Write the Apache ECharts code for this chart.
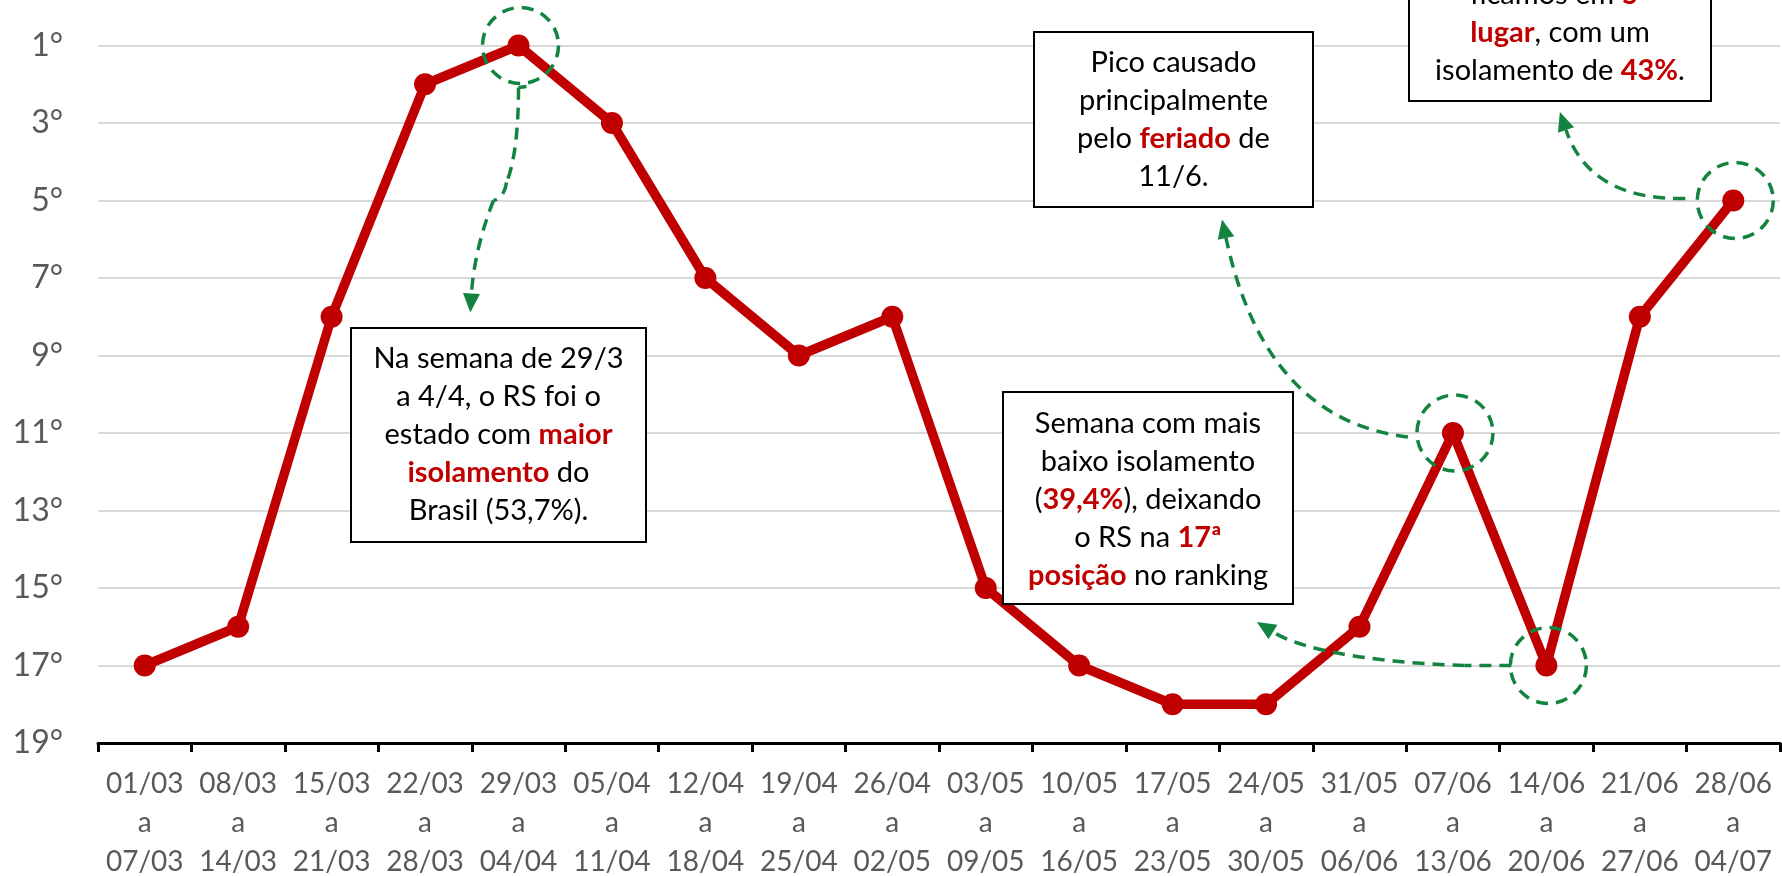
<!DOCTYPE html>
<html>
<head>
<meta charset="utf-8">
<script src="https://cdn.jsdelivr.net/npm/echarts@6/dist/echarts.min.js"></script>
<style>html,body{margin:0;padding:0;background:#fff;}#c{width:1782px;height:876px;}</style>
</head>
<body>
<div id="c"></div>
<script>
const weekStart = ['01/03','08/03','15/03','22/03','29/03','05/04','12/04','19/04','26/04','03/05','10/05','17/05','24/05','31/05','07/06','14/06','21/06','28/06'];
const weekEnd = ['07/03','14/03','21/03','28/03','04/04','11/04','18/04','25/04','02/05','09/05','16/05','23/05','30/05','06/06','13/06','20/06','27/06','04/07'];
const rank = [17,16,8,2,1,3,7,9,8,15,17,18,18,16,11,17,8,5];
const yTicks = [1,3,5,7,9,11,13,15,17,19];

const categories = weekStart.map((s, i) => s + '\na\n' + weekEnd[i]);
const RED = '#C00000', GREEN = '#128440', FONT = 'Lato';

const chart = echarts.init(document.getElementById('c'));
chart.setOption({
  backgroundColor: '#fff',
  animation: false,
  grid: { left: 98, right: 2, top: 45.5, bottom: 133, containLabel: false, outerBoundsMode: 'none' },
  xAxis: {
    type: 'category', data: categories, boundaryGap: true,
    axisLine: { onZero: false, lineStyle: { color: '#000', width: 3 } },
    axisTick: { show: true, length: 9, lineStyle: { color: '#000', width: 3 } },
    axisLabel: { interval: 0, fontSize: 28, lineHeight: 39, color: '#595959', fontFamily: FONT, margin: 21 },
    splitLine: { show: false }
  },
  yAxis: {
    type: 'value', inverse: true, min: yTicks[0], max: yTicks[yTicks.length - 1], interval: 2,
    axisLine: { show: false }, axisTick: { show: false },
    axisLabel: { formatter: v => v + '°', fontSize: 32, color: '#595959', fontFamily: FONT, margin: 35 },
    splitLine: { lineStyle: { color: '#D9D9D9', width: 2 } }
  },
  series: [{
    type: 'line', data: rank, clip: false,
    symbol: 'circle', symbolSize: 22,
    itemStyle: { color: RED },
    lineStyle: { color: RED, width: 9.5, join: 'round' },
    z: 5
  }]
});

function P(i) { return chart.convertToPixel({ seriesIndex: 0 }, [i, rank[i]]); }
const dash = { stroke: GREEN, lineWidth: 3.5, lineDash: [12, 8], fill: null };
const g = [];
function ring(i) {
  const p = P(i);
  g.push({ type: 'circle', z: 50, shape: { cx: p[0] + 2, cy: p[1], r: 38 }, style: Object.assign({}, dash) });
}
function curve(x1, y1, x2, y2, c1x, c1y, c2x, c2y) {
  const shape = { x1, y1, x2, y2, cpx1: c1x, cpy1: c1y };
  if (c2x !== undefined) { shape.cpx2 = c2x; shape.cpy2 = c2y; }
  g.push({ type: 'bezierCurve', z: 50, shape, style: Object.assign({}, dash) });
}
function head(bx, by, fx, fy) {
  let dx = bx - fx, dy = by - fy; const L = Math.hypot(dx, dy); dx /= L; dy /= L;
  const len = 19, hw = 8.5;
  g.push({ type: 'polygon', z: 51, shape: { points: [
    [bx + dx * len, by + dy * len], [bx - dy * hw, by + dx * hw], [bx + dy * hw, by - dx * hw]
  ] }, style: { fill: GREEN } });
}
function box(x1, y1, x2, y2, cx, cy, text) {
  g.push({ type: 'rect', z: 60, shape: { x: x1, y: y1, width: x2 - x1, height: y2 - y1 },
    style: { fill: '#fff', stroke: '#000', lineWidth: 2 } });
  g.push({ type: 'text', z: 61, x: cx, y: cy, style: {
    text, fill: '#000', fontSize: 29, fontFamily: FONT, lineHeight: 38,
    align: 'center', verticalAlign: 'middle',
    rich: { r: { fill: RED, fontWeight: 'bold', fontSize: 29, fontFamily: FONT, lineHeight: 38 } }
  } });
}

[4, 14, 15, 17].forEach(ring);

// arrow from 29/03 peak down to box 1
let p = P(4);
g.push({ type: 'line', z: 50, shape: { x1: p[0] + 8, y1: p[1] + 41, x2: p[0], y2: p[1] + 42 }, style: Object.assign({}, dash, { lineDash: null }) });
curve(p[0], p[1] + 42, p[0] - 12, p[1] + 137, p[0], p[1] + 90, p[0] - 5, p[1] + 120);
curve(p[0] - 12, p[1] + 137, p[0] - 25, p[1] + 155, p[0] - 14, p[1] + 152);
curve(p[0] - 25, p[1] + 155, p[0] - 47, p[1] + 248, p[0] - 35, p[1] + 180, p[0] - 45, p[1] + 215);
head(p[0] - 47, p[1] + 248, p[0] - 45, p[1] + 215);

// arrow from 07/06 to box 2
p = P(14);
curve(p[0] - 45, p[1] + 4, 1226, 238, 1265, 420);
head(1226, 238, 1265, 420);

// arrow from 14/06 to box 3
p = P(15);
g.push({ type: 'line', z: 50, shape: { x1: p[0] - 35, y1: p[1], x2: p[0] - 82, y2: p[1] }, style: Object.assign({}, dash) });
curve(p[0] - 82, p[1], 1273, 632, 1400, p[1] - 2, 1310, 655);
head(1273, 632, 1310, 655);

// arrow from 28/06 to box 4
p = P(17);
curve(p[0] - 48, p[1] - 2, 1566, 130, 1590, p[1]);
head(1566, 130, 1590, p[1]);

box(351, 328, 646, 542, 498.5, 435,
  'Na semana de 29/3\na 4/4, o RS foi o\nestado com {r|maior}\n{r|isolamento} do\nBrasil (53,7%).');
box(1034, 32, 1313, 207, 1173.5, 120,
  'Pico causado\nprincipalmente\npelo {r|feriado} de\n11/6.');
box(1003, 392, 1293, 604, 1148, 500,
  'Semana com mais\nbaixo isolamento\n({r|39,4%}), deixando\no RS na {r|17ª}\n{r|posição} no ranking');
box(1409, -90, 1711, 101, 1560, 33,
  'ficamos em {r|5º}\n{r|lugar}, com um\nisolamento de {r|43%}.');

chart.setOption({ graphic: { elements: g } });
</script>
</body>
</html>
